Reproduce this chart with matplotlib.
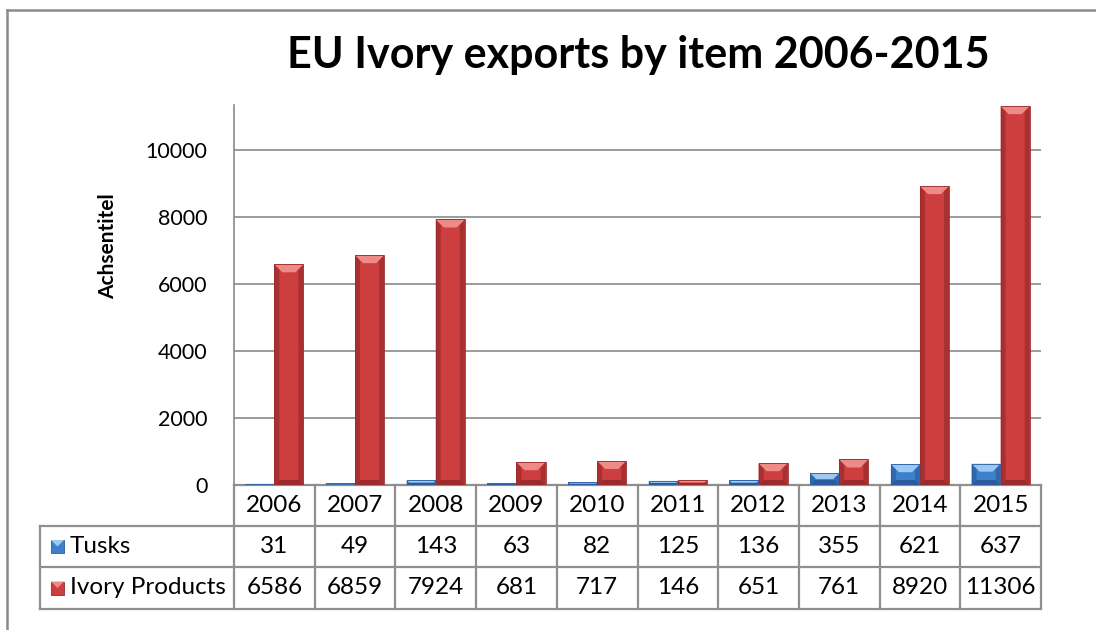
import matplotlib
matplotlib.use("Agg")
import matplotlib.pyplot as plt
from matplotlib.lines import Line2D
from matplotlib.patches import Polygon, Rectangle
from matplotlib.transforms import blended_transform_factory
import numpy as np

years = ["2006", "2007", "2008", "2009", "2010", "2011", "2012", "2013", "2014", "2015"]
tusks = [31, 49, 143, 63, 82, 125, 136, 355, 621, 637]
ivory_products = [6586, 6859, 7924, 681, 717, 146, 651, 761, 8920, 11306]
series_names = ["Tusks", "Ivory Products"]
y_ticks = [0, 2000, 4000, 6000, 8000, 10000]

title = "EU Ivory exports by item 2006-2015"
y_label = "Achsentitel"

FONT = "Lato"
FS = 17.5
GRID = "#8a8a8a"
# face, top bevel, side bevel, bottom bevel
RED = ("#CD3E3F", "#EE8A88", "#A93031", "#9A2A2B")
BLUE = ("#3F80CC", "#9CC8F2", "#3068B0", "#2A5C9C")

W, H = 1096, 630
fig = plt.figure(figsize=(W / 100, H / 100), dpi=100)
fig.patch.set_facecolor("white")

ax_left, ax_right, ax_bottom, ax_top = 234, 1041, 485, 105
ax = fig.add_axes([ax_left / W, 1 - ax_bottom / H, (ax_right - ax_left) / W, (ax_bottom - ax_top) / H])
ax.set_xlim(-0.5, len(years) - 0.5)
ax.set_ylim(0, 11340)

x = np.arange(len(years))
bw = 0.36
px_x = (ax_right - ax_left) / len(years)          # pixels per data unit (x)
px_y = (ax_bottom - ax_top) / 11340               # pixels per data unit (y)


def bevel_bars(xs, vals, colors):
    face, top, side, bottom = colors
    bars = ax.bar(xs, vals, width=bw, color=face, edgecolor="none", zorder=3)
    for b in bars:
        x0, w, h = b.get_x(), b.get_width(), b.get_height()
        x1 = x0 + w
        wp, hp = w * px_x, h * px_y
        d = min(8.0, wp / 2, hp / 2)
        ds = min(5.0, wp / 2, hp / 2)
        dx, dy = d / px_x, d / px_y
        sx, sy = ds / px_x, ds / px_y
        ax.add_patch(Polygon([(x0, 0), (x0, h), (x0 + sx, h - sy), (x0 + sx, sy)], closed=True,
                             facecolor=side, edgecolor="none", zorder=4))
        ax.add_patch(Polygon([(x1, 0), (x1, h), (x1 - sx, h - sy), (x1 - sx, sy)], closed=True,
                             facecolor=side, edgecolor="none", zorder=4))
        ax.add_patch(Polygon([(x0, 0), (x1, 0), (x1 - sx, sy), (x0 + sx, sy)], closed=True,
                             facecolor=bottom, edgecolor="none", zorder=4))
        ax.add_patch(Polygon([(x0, h), (x1, h), (x1 - dx, h - dy), (x0 + dx, h - dy)], closed=True,
                             facecolor=top, edgecolor="none", zorder=4))
        ax.add_patch(Rectangle((x0, 0), w, h, facecolor="none", edgecolor=bottom,
                               linewidth=0.6, zorder=5))
    return bars


bevel_bars(x - bw / 2, tusks, BLUE)
bevel_bars(x + bw / 2, ivory_products, RED)

ax.set_yticks(y_ticks)
ax.set_yticklabels([str(v) for v in y_ticks], fontfamily=FONT, fontsize=15.5)
ax.tick_params(axis="y", length=0, pad=19)
ax.set_xticks([])
ax.grid(axis="y", color=GRID, linewidth=1.2, zorder=0)
for s in ["top", "right", "bottom"]:
    ax.spines[s].set_visible(False)
ax.spines["left"].set_color(GRID)
ax.spines["left"].set_linewidth(1.2)

ax.set_ylabel(y_label, fontfamily=FONT, fontsize=15, fontweight="bold")
ax.yaxis.set_label_coords((118 - ax_left) / (ax_right - ax_left), (ax_bottom - 246) / (ax_bottom - ax_top))

# data table under the axis
ax_h = ax_bottom - ax_top
row_edges = [0, -41 / ax_h, -82 / ax_h, -124 / ax_h]
legend_x0 = (40 - ax_left) / (ax_right - ax_left)
bt = blended_transform_factory(ax.transData, ax.transAxes)
tlw = 1.6
tcol = "#8f8f8f"

ax.add_line(Line2D([-0.5, len(years) - 0.5], [row_edges[0]] * 2, transform=bt, color=tcol, lw=tlw, clip_on=False))
for ry in row_edges[1:]:
    ax.add_line(Line2D([legend_x0, 1], [ry, ry], transform=ax.transAxes, color=tcol, lw=tlw, clip_on=False))
for i in range(len(years) + 1):
    ax.add_line(Line2D([i - 0.5, i - 0.5], [row_edges[0], row_edges[-1]], transform=bt,
                       color=tcol, lw=tlw, clip_on=False))
ax.add_line(Line2D([legend_x0, legend_x0], [row_edges[1], row_edges[-1]], transform=ax.transAxes,
                   color=tcol, lw=tlw, clip_on=False))

rows = [years, [str(v) for v in tusks], [str(v) for v in ivory_products]]
for r, vals in enumerate(rows):
    yc = (row_edges[r] + row_edges[r + 1]) / 2
    for i, v in enumerate(vals):
        ax.text(i, yc, v, transform=bt, ha="center", va="center", fontfamily=FONT, fontsize=FS)

key_colors = [BLUE, RED]
key_w = 13 / (ax_right - ax_left)
key_h = 13 / ax_h
for k, name in enumerate(series_names):
    yc = (row_edges[k + 1] + row_edges[k + 2]) / 2
    kx = legend_x0 + 11 / (ax_right - ax_left)
    face, top, side, bottom = key_colors[k]
    ax.add_patch(Rectangle((kx, yc - key_h / 2), key_w, key_h, transform=ax.transAxes,
                           facecolor=face, edgecolor=bottom, linewidth=0.6, clip_on=False))
    ax.add_patch(Polygon([(kx, yc + key_h / 2), (kx + key_w, yc + key_h / 2), (kx + key_w / 2, yc)],
                         closed=True, transform=ax.transAxes, facecolor=top, edgecolor="none", clip_on=False))
    ax.text(kx + key_w + 6 / (ax_right - ax_left), yc, name, transform=ax.transAxes, ha="left",
            va="center", fontfamily=FONT, fontsize=FS)

fig.text(638 / W, 1 - 55 / H, title, ha="center", va="center", fontfamily=FONT,
         fontsize=31, fontweight="bold")

# chart frame (top and left edges visible)
fig.add_artist(Line2D([7 / W, 1], [1 - 10 / H, 1 - 10 / H], transform=fig.transFigure, color="#8a8a8a", lw=1.8))
fig.add_artist(Line2D([7 / W, 7 / W], [0, 1 - 10 / H], transform=fig.transFigure, color="#8a8a8a", lw=1.8))

fig.savefig("out.png", dpi=100, facecolor="white")
